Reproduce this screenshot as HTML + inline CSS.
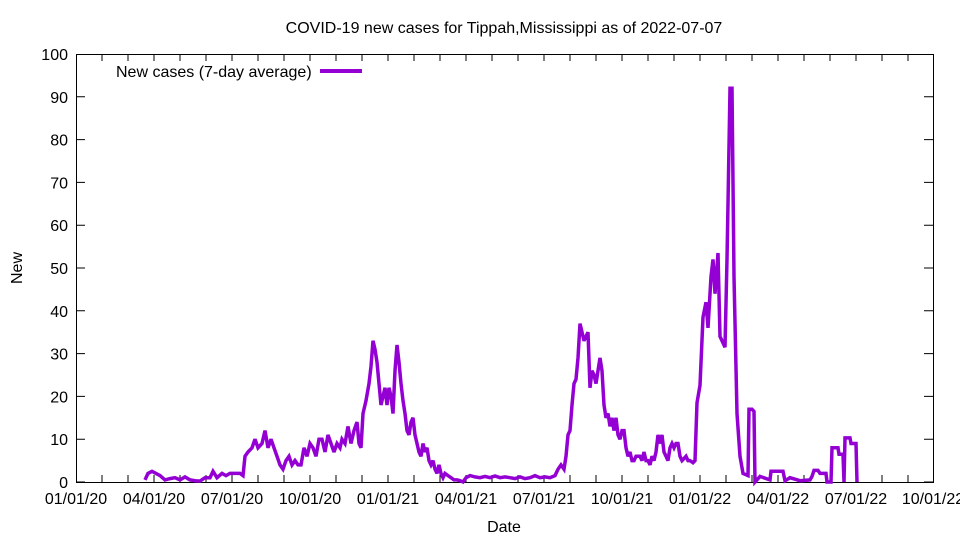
<!DOCTYPE html>
<html><head><meta charset="utf-8"><style>body{margin:0;background:#fff}svg{display:block}text{font-family:"Liberation Sans",sans-serif;font-size:16px;fill:#000}</style></head>
<body>
<svg width="960" height="540" viewBox="0 0 960 540" xmlns="http://www.w3.org/2000/svg">
<text x="504" y="33" text-anchor="middle">COVID-19 new cases for Tippah,Mississippi as of 2022-07-07</text>
<g text-anchor="end">
<text x="68" y="488">0</text><text x="68" y="445.2">10</text><text x="68" y="402.4">20</text><text x="68" y="359.6">30</text><text x="68" y="316.8">40</text><text x="68" y="274">50</text><text x="68" y="231.2">60</text><text x="68" y="188.4">70</text><text x="68" y="145.6">80</text><text x="68" y="102.8">90</text><text x="68" y="60">100</text>
</g>
<text transform="translate(22,268) rotate(-90)" text-anchor="middle">New</text>
<text x="504" y="532" text-anchor="middle">Date</text>
<path stroke="#000" stroke-width="1" fill="none" d="M76 482h9M76 439.2h9M76 396.4h9M76 353.6h9M76 310.8h9M76 268h9M76 225.2h9M76 182.4h9M76 139.6h9M76 96.8h9M933 482h-9M933 439.2h-9M933 396.4h-9M933 353.6h-9M933 310.8h-9M933 268h-9M933 225.2h-9M933 182.4h-9M933 139.6h-9M933 96.8h-9
M102 482v-7M128 482v-7M154 482v-7M180 482v-7M206 482v-7M232 482v-7M258 482v-7M284 482v-7M310 482v-7M336 482v-7M362 482v-7M388 482v-7M414 482v-7M440 482v-7M466 482v-7M492 482v-7M518 482v-7M544 482v-7M570 482v-7M596 482v-7M622 482v-7M648 482v-7M674 482v-7M700 482v-7M726 482v-7M752 482v-7M778 482v-7M804 482v-7M830 482v-7M856 482v-7M882 482v-7M908 482v-7
M102 54v7M128 54v7M154 54v7M180 54v7M206 54v7M232 54v7M258 54v7M284 54v7M310 54v7M336 54v7M362 54v7M388 54v7M414 54v7M440 54v7M466 54v7M492 54v7M518 54v7M544 54v7M570 54v7M596 54v7M622 54v7M648 54v7M674 54v7M700 54v7M726 54v7M752 54v7M778 54v7M804 54v7M830 54v7M856 54v7M882 54v7M908 54v7"/>
<g text-anchor="middle">
<text x="76" y="504">01/01/20</text><text x="154" y="504">04/01/20</text><text x="232" y="504">07/01/20</text><text x="310" y="504">10/01/20</text><text x="388" y="504">01/01/21</text><text x="466" y="504">04/01/21</text><text x="544" y="504">07/01/21</text><text x="622" y="504">10/01/21</text><text x="700" y="504">01/01/22</text><text x="778" y="504">04/01/22</text><text x="856" y="504">07/01/22</text><text x="933" y="504">10/01/22</text>
</g>
<rect x="76.5" y="54.5" width="857" height="428" fill="none" stroke="#000"/>
<text x="116" y="77">New cases (7-day average)</text>
<line x1="320" y1="71" x2="362" y2="71" stroke="#9400d3" stroke-width="4"/>
<polyline fill="none" stroke="#9400d3" stroke-width="3.5" stroke-linejoin="miter" stroke-miterlimit="3" points="145,479.9 148,473.4 152,471.3 156,473.4 160,475.6 165,479.9 170,478.6 175,477.7 180,479.9 185,476.9 190,479.9 195,480.7 200,481.1 205,477.7 210,477.7 213,471.3 217,477.7 222,473.4 226,475.6 230,473.4 235,473.4 240,473.4 243,475.6 245,456.3 248,452 252,447.8 255,439.2 258,447.8 262,443.5 265,430.6 268,447.8 271,439.2 274,447.8 277,456.3 280,464.9 283,469.2 286,460.6 289,456.3 292,464.9 295,460.6 298,464.9 301,464.9 304,447.8 307,456.3 310,443.5 313,447.8 316,456.3 319,439.2 322,439.2 325,452 328,434.9 331,443.5 334,452 337,443.5 340,447.8 342,439.2 345,443.5 348,426.4 351,443.5 354,430.6 357,422.1 359,443.5 361,447.8 363,413.5 366,400.7 369,383.6 371,366.4 373,340.8 375,349.3 377,362.2 379,383.6 381,405 383,396.4 385,387.8 387,405 389,387.8 391,396.4 393,413.5 395,370.7 397,345 399,362.2 401,383.6 403,400.7 405,413.5 407,430.6 409,434.9 411,422.1 413,417.8 415,434.9 417,443.5 419,452 421,456.3 423,443.5 425,452 427,447.8 429,460.6 431,464.9 433,460.6 435,469.2 437,473.4 439,464.9 441,473.4 443,477.7 445,473.4 448,475.6 451,477.7 454,479.9 457,479.9 460,480.7 463,482 466,477.7 470,475.6 475,476.9 480,477.7 485,476.4 490,477.7 495,476 500,477.7 505,476.9 510,477.7 515,478.6 520,476.9 525,478.6 530,477.7 535,475.6 540,477.7 545,476.9 550,477.7 555,475.6 558,469.2 561,464.9 564,469.2 566,456.3 568,434.9 570,430.6 572,405 574,383.6 576,379.3 578,357.9 580,323.6 582,332.2 584,340.8 586,336.5 588,332.2 590,387.8 592,370.7 594,375 596,383.6 598,370.7 600,357.9 602,370.7 604,405 606,417.8 608,413.5 610,426.4 612,417.8 614,430.6 616,417.8 618,434.9 620,439.2 622,430.6 624,430.6 626,447.8 628,456.3 630,452 632,460.6 634,460.6 636,456.3 638,456.3 640,456.3 642,460.6 644,452 646,460.6 648,460.6 650,464.9 652,456.3 654,460.6 656,452 658,434.9 660,443.5 662,434.9 664,452 666,456.3 668,460.6 670,447.8 672,443.5 674,447.8 676,443.5 678,443.5 680,456.3 682,460.6 684,458.5 686,456.3 688,460.6 690,460.6 693,462.7 695,460.6 697,402.8 700,385.3 703,317.2 706,302.2 708,327.9 711,276.6 713,259.4 715,293.7 718,253 720,336.5 722,340.8 725,347.2 727,259.4 728,203.8 730,88.2 732,88.2 734,276.6 737,413.5 740,456.3 743,473.4 748,475.6 749,409.2 752,409.2 754,411.4 755,482 760,476.4 770,479.9 771,471.3 783,471.3 785,480.7 790,477.7 800,480.7 810,479.9 812,476.4 814,470.4 818,470.4 820,473.4 826,473.4 827,482 831,482 832,447.8 838,447.8 839,454.2 843,454.2 844,482 845,437.9 850,437.9 851,443.5 856,443.5 857,482"/>
</svg>
</body></html>
